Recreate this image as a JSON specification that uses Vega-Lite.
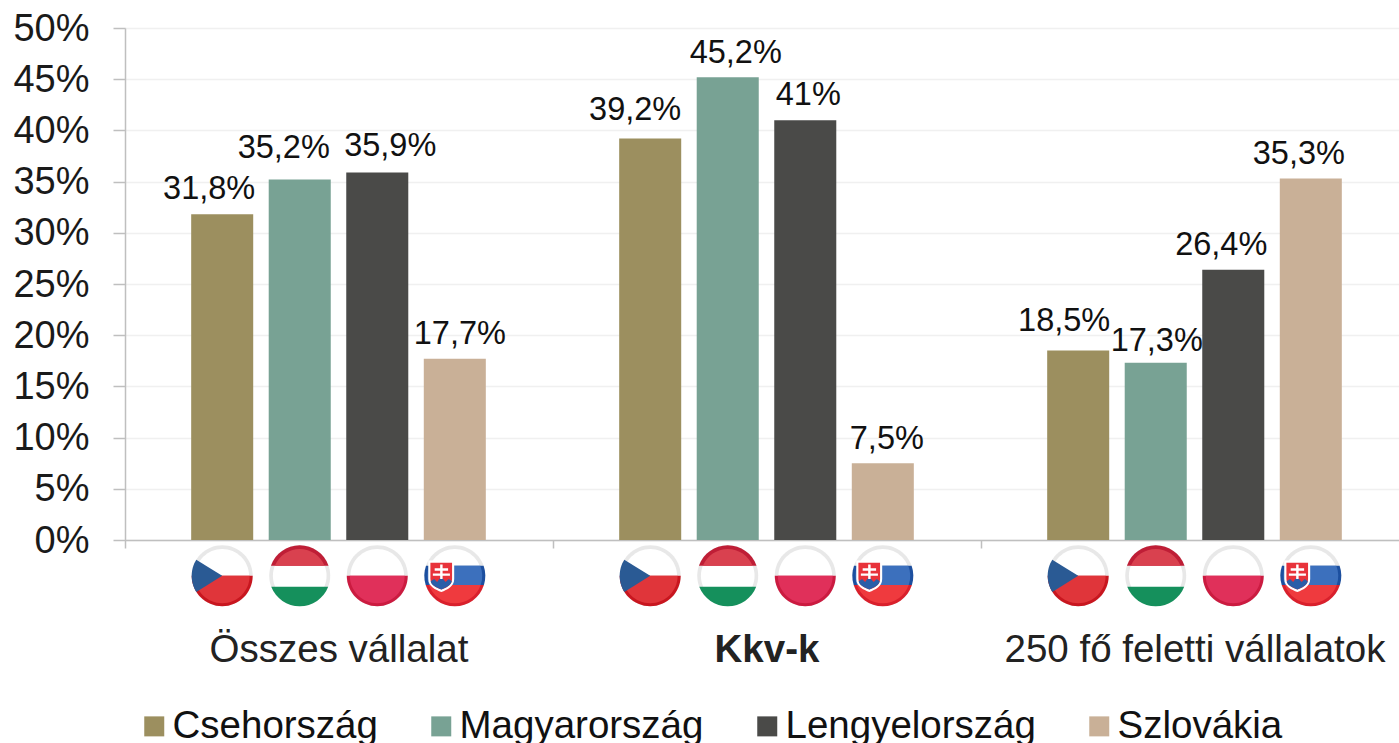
{"$schema":"https://vega.github.io/schema/vega-lite/v6.json","width":1274,"height":512,"autosize":{"type":"none"},"padding":{"left":125,"top":28,"right":0,"bottom":203},"background":"white","config":{"view":{"stroke":null},"font":"Liberation Sans"},
"datasets":{"bars":[
{"group":"Összes vállalat","country":"Csehország","value":31.8,"label":"31,8%"},
{"group":"Összes vállalat","country":"Magyarország","value":35.2,"label":"35,2%"},
{"group":"Összes vállalat","country":"Lengyelország","value":35.9,"label":"35,9%"},
{"group":"Összes vállalat","country":"Szlovákia","value":17.7,"label":"17,7%"},
{"group":"Kkv-k","country":"Csehország","value":39.2,"label":"39,2%"},
{"group":"Kkv-k","country":"Magyarország","value":45.2,"label":"45,2%"},
{"group":"Kkv-k","country":"Lengyelország","value":41,"label":"41%"},
{"group":"Kkv-k","country":"Szlovákia","value":7.5,"label":"7,5%"},
{"group":"250 fő feletti vállalatok","country":"Csehország","value":18.5,"label":"18,5%"},
{"group":"250 fő feletti vállalatok","country":"Magyarország","value":17.3,"label":"17,3%"},
{"group":"250 fő feletti vállalatok","country":"Lengyelország","value":26.4,"label":"26,4%"},
{"group":"250 fő feletti vállalatok","country":"Szlovákia","value":35.3,"label":"35,3%"}],
"flags":[
{"group":"Összes vállalat","country":"Csehország","parts":["base","white","czRim","czRed","czBlue"]},
{"group":"Összes vállalat","country":"Magyarország","parts":["base","white","huTop","huTopIn","huBot"]},
{"group":"Összes vállalat","country":"Lengyelország","parts":["base","white","plRim","plRed"]},
{"group":"Összes vállalat","country":"Szlovákia","parts":["base","white","skBlueRim","skBlue","skRedRim","skRed","shieldW","shieldR","shieldM","cross"]},
{"group":"Kkv-k","country":"Csehország","parts":["base","white","czRim","czRed","czBlue"]},
{"group":"Kkv-k","country":"Magyarország","parts":["base","white","huTop","huTopIn","huBot"]},
{"group":"Kkv-k","country":"Lengyelország","parts":["base","white","plRim","plRed"]},
{"group":"Kkv-k","country":"Szlovákia","parts":["base","white","skBlueRim","skBlue","skRedRim","skRed","shieldW","shieldR","shieldM","cross"]},
{"group":"250 fő feletti vállalatok","country":"Csehország","parts":["base","white","czRim","czRed","czBlue"]},
{"group":"250 fő feletti vállalatok","country":"Magyarország","parts":["base","white","huTop","huTopIn","huBot"]},
{"group":"250 fő feletti vállalatok","country":"Lengyelország","parts":["base","white","plRim","plRed"]},
{"group":"250 fő feletti vállalatok","country":"Szlovákia","parts":["base","white","skBlueRim","skBlue","skRedRim","skRed","shieldW","shieldR","shieldM","cross"]}]},
"encoding":{
"x":{"field":"group","type":"nominal","title":null,"scale":{"domain":["Összes vállalat","Kkv-k","250 fő feletti vállalatok"],"range":[-0.5,1283.5],"paddingInner":0,"paddingOuter":0},"axis":{"labelAngle":0,"labelFontSize":38.5,"labelColor":"#222222","labelPadding":101,"labelBaseline":"middle","labelLimit":600,"tickBand":"extent","tickSize":8,"tickColor":"#bfbfbf","tickWidth":1.5,"domainColor":"#bfbfbf","domainWidth":1.5,"grid":false,"labelFontWeight":{"condition":{"test":"datum.value==='Kkv-k'","value":"bold"},"value":"normal"}}},
"xOffset":{"field":"country","type":"nominal","scale":{"domain":["Csehország","Magyarország","Lengyelország","Szlovákia"],"paddingInner":0.2,"paddingOuter":0.86}}},
"layer":[
{"data":{"name":"bars"},"encoding":{"y":{"field":"value","type":"quantitative","title":null,"scale":{"domain":[0,50],"nice":false},"axis":{"values":[0,5,10,15,20,25,30,35,40,45,50],"labelExpr":"datum.value+'%'","labelFontSize":38,"labelColor":"#1a1a1a","labelPadding":24,"labelOffset":1,"tickSize":12,"tickColor":"#bfbfbf","tickWidth":1.5,"domainColor":"#bfbfbf","domainWidth":1.5,"gridColor":"#f0f0f0","gridWidth":1.5}}},
"layer":[
{"mark":{"type":"bar"},"encoding":{"color":{"field":"country","type":"nominal","scale":{"domain":["Csehország","Magyarország","Lengyelország","Szlovákia"],"range":["#9c8f5f","#78a294","#4a4a48","#c9b097"]},"legend":{"title":null,"orient":"none","legendX":10,"legendY":679,"direction":"horizontal","columns":4,"columnPadding":44,"symbolType":"square","symbolSize":400,"symbolStrokeWidth":0,"symbolOpacity":1,"labelFontSize":38.5,"labelColor":"#111111","labelOffset":-1,"labelLimit":400,"padding":0}}}},
{"transform":[{"filter":"datum.label==='31,8%'"}],"mark":{"type":"text","fontSize":32.5,"color":"#111111","baseline":"alphabetic","dx":-13,"dy":-15},"encoding":{"text":{"field":"label"}}},
{"transform":[{"filter":"datum.label==='35,2%'"}],"mark":{"type":"text","fontSize":32.5,"color":"#111111","baseline":"alphabetic","dx":-16,"dy":-22},"encoding":{"text":{"field":"label"}}},
{"transform":[{"filter":"datum.label==='35,9%'"}],"mark":{"type":"text","fontSize":32.5,"color":"#111111","baseline":"alphabetic","dx":13,"dy":-16},"encoding":{"text":{"field":"label"}}},
{"transform":[{"filter":"datum.label==='17,7%'"}],"mark":{"type":"text","fontSize":32.5,"color":"#111111","baseline":"alphabetic","dx":5,"dy":-15},"encoding":{"text":{"field":"label"}}},
{"transform":[{"filter":"datum.label==='39,2%'"}],"mark":{"type":"text","fontSize":32.5,"color":"#111111","baseline":"alphabetic","dx":-15,"dy":-19},"encoding":{"text":{"field":"label"}}},
{"transform":[{"filter":"datum.label==='45,2%'"}],"mark":{"type":"text","fontSize":32.5,"color":"#111111","baseline":"alphabetic","dx":8,"dy":-14},"encoding":{"text":{"field":"label"}}},
{"transform":[{"filter":"datum.label==='41%'"}],"mark":{"type":"text","fontSize":32.5,"color":"#111111","baseline":"alphabetic","dx":3,"dy":-15},"encoding":{"text":{"field":"label"}}},
{"transform":[{"filter":"datum.label==='7,5%'"}],"mark":{"type":"text","fontSize":32.5,"color":"#111111","baseline":"alphabetic","dx":4,"dy":-14},"encoding":{"text":{"field":"label"}}},
{"transform":[{"filter":"datum.label==='18,5%'"}],"mark":{"type":"text","fontSize":32.5,"color":"#111111","baseline":"alphabetic","dx":-14,"dy":-20},"encoding":{"text":{"field":"label"}}},
{"transform":[{"filter":"datum.label==='17,3%'"}],"mark":{"type":"text","fontSize":32.5,"color":"#111111","baseline":"alphabetic","dx":1,"dy":-12},"encoding":{"text":{"field":"label"}}},
{"transform":[{"filter":"datum.label==='26,4%'"}],"mark":{"type":"text","fontSize":32.5,"color":"#111111","baseline":"alphabetic","dx":-12,"dy":-15},"encoding":{"text":{"field":"label"}}},
{"transform":[{"filter":"datum.label==='35,3%'"}],"mark":{"type":"text","fontSize":32.5,"color":"#111111","baseline":"alphabetic","dx":-12,"dy":-15},"encoding":{"text":{"field":"label"}}}
]},
{"data":{"name":"flags"},"transform":[{"flatten":["parts"],"as":["part"]}],"mark":{"type":"point","filled":true,"size":3720,"opacity":1,"strokeWidth":0},"encoding":{"y":{"datum":-3.5,"type":"quantitative"},
"shape":{"field":"part","type":"nominal","legend":null,"scale":{"domain":["base","white","czRim","czRed","czBlue","huTop","huTopIn","huBot","plRim","plRed","skBlueRim","skBlue","skRedRim","skRed","shieldW","shieldR","shieldM","cross"],"range":[
"M-1,0A1,1 0 1 1 1,0A1,1 0 1 1 -1,0Z",
"M-.88,0A.88,.88 0 1 1 .88,0A.88,.88 0 1 1 -.88,0Z",
"M-1,0A1,1 0 0 0 1,0Z",
"M-.9,0A.9,.9 0 0 0 .9,0Z",
"M-.85,-.53L0,0L-.85,.53A1,1 0 0 1 -.85,-.53Z",
"M-.944,-.33A1,1 0 0 1 .944,-.33Z",
"M-.816,-.33A.88,.88 0 0 1 .816,-.33Z",
"M-.933,.36A1,1 0 0 0 .933,.36Z",
"M-1,0A1,1 0 0 0 1,0Z",
"M-.9,0A.9,.9 0 0 0 .9,0Z",
"M-.944,-.33A1,1 0 0 0 -.954,.3L.954,.3A1,1 0 0 0 .944,-.33Z",
"M-.837,-.33A.9,.9 0 0 0 -.849,.3L.849,.3A.9,.9 0 0 0 .837,-.33Z",
"M-.954,.3A1,1 0 0 0 .954,.3Z",
"M-.849,.3A.9,.9 0 0 0 .849,.3Z",
"M-.87,-.5L-.02,-.5L-.02,.1C-.02,.35 -.25,.45 -.44,.53C-.63,.45 -.87,.35 -.87,.1Z",
"M-.8,-.43L-.09,-.43L-.09,.1C-.09,.3 -.27,.38 -.44,.45C-.61,.38 -.8,.3 -.8,.1Z",
"M-.79,.18L-.68,.1L-.58,.2L-.45,.03L-.3,.2L-.2,.1L-.1,.18C-.12,.3 -.27,.38 -.44,.45C-.61,.38 -.78,.3 -.79,.18Z",
"M-.48,-.37L-.4,-.37L-.4,-.25L-.22,-.25L-.22,-.17L-.4,-.17L-.4,-.08L-.16,-.08L-.16,0L-.4,0L-.4,.1L-.48,.1L-.48,0L-.72,0L-.72,-.08L-.48,-.08L-.48,-.17L-.66,-.17L-.66,-.25L-.48,-.25Z"]}},
"fill":{"field":"part","type":"nominal","legend":null,"scale":{"domain":["base","white","czRim","czRed","czBlue","huTop","huTopIn","huBot","plRim","plRed","skBlueRim","skBlue","skRedRim","skRed","shieldW","shieldR","shieldM","cross"],"range":["#e8e8e8","#ffffff","#c8161f","#e0353a","#2a5a94","#bf1e36","#d9414f","#15905c","#cb1b40","#e0305a","#1c4f9f","#3c70bd","#d9202c","#ef3a3e","#ffffff","#e8323a","#2a5ea8","#ffffff"]}}}}
]}
